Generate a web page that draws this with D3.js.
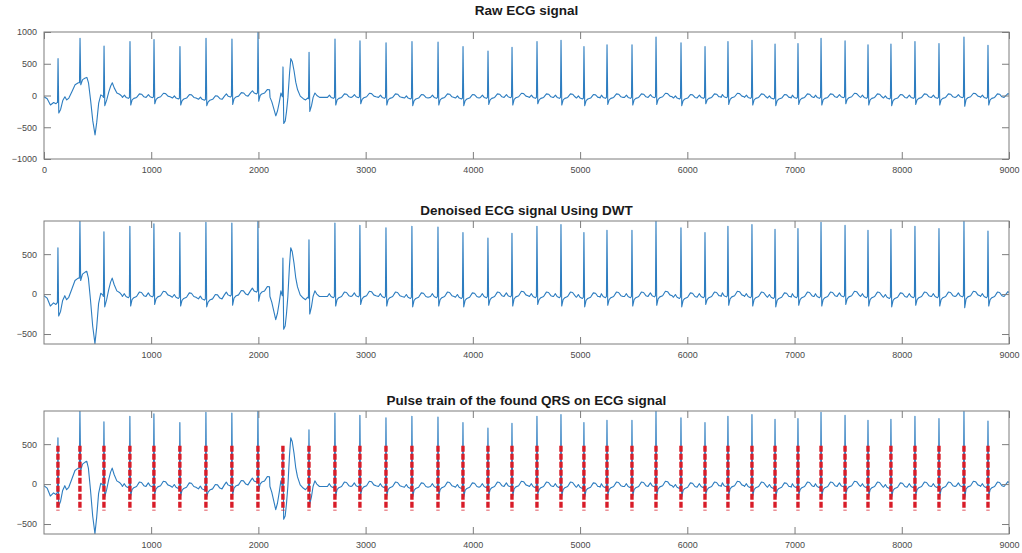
<!DOCTYPE html>
<html>
<head>
<meta charset="utf-8">
<script src="https://cdn.jsdelivr.net/npm/d3@7/dist/d3.min.js"></script>
<style>
  html, body { margin: 0; padding: 0; background: #ffffff; }
  svg { display: block; }
</style>
</head>
<body>
<svg id="chart" width="1022" height="553"></svg>
<script>
// ---------------- DATA ----------------
const panelTitles = ["Raw ECG signal", "Denoised ECG signal Using DWT", "Pulse train of the found QRS on ECG signal"];

// R-peak sample positions of the 39 beats (also the QRS pulse positions)
const beatPos = [131,336,560,802,1026,1268,1511,1753,1996,2229,
                 2472,2714,2947,3190,3432,3675,3908,4141,4365,4598,
                 4822,5036,5251,5484,5708,5941,6165,6379,6603,6818,
                 7032,7247,7471,7685,7899,8123,8347,8580,8804];
// R-peak amplitude, raw signal
const rPeakRaw = [580,900,780,850,880,770,900,890,1000,450,
                  680,890,860,830,850,840,770,700,760,850,
                  870,770,800,800,920,830,770,850,870,810,
                  820,900,860,800,810,850,820,920,790];
// R-peak amplitude, denoised signal
const rPeakDen = [580,915,780,850,880,770,900,890,915,450,
                  680,890,860,830,850,840,770,700,760,850,
                  870,770,800,800,915,830,770,850,870,810,
                  820,900,860,800,810,850,820,910,790];
// local baseline level at each beat
const beatBase = [-110,200,-30,-30,-20,-40,-60,-10,40,-20,
                  -50,-30,-20,-30,-40,-30,-40,-30,-20,-30,
                  -30,-40,-30,-30,-20,-40,-30,-20,-30,-40,
                  -30,-30,-20,-30,-40,-30,-30,-20,-30];
// S-wave minimum after each R peak
const sPeak = [-275,170,-160,-150,-130,-150,-160,-140,-90,-440,
               -250,-150,-130,-150,-160,-150,-160,-140,-150,-130,
               -150,-160,-140,-150,-140,-160,-130,-140,-150,-160,
               -140,-150,-130,-150,-160,-140,-150,-170,-150];

// P / Q / T wave shape of a regular beat: sample offset from R, level above baseline
const tplOffset = [-70,-52,-36,-14, 20, 36, 62, 88,108,130,150];
const tplDelta  = [  0, 35,  0,-15,-40,-15,  0, 55, 50, 10,  0];
// spike shape: offsets of pre-R point, R point, S point
const spikeOffset = [-5, 0, 7];

// slow waves / artefacts read point by point (samples, value) - no spikes
const waveX = [0,30,60,90,112,122, 155,175,195,212,232,260,290,320,
               360,385,400,415,435,455,476,492,510,530,548,
               585,605,622,637,655,680,705,725,
               2108,2125,2145,2162,2178,2195,2210,2218,
               2250,2262,2275,2290,2302,2316,2332,2348,2365,2390,2418,2440,2458,
               2495,2510,2527,2545,2570,
               8990,9000];
const waveY = [-20,-50,-150,-110,-130,-110, -220,-80,-20,-70,-40,60,170,200,
               250,275,285,200,-80,-400,-620,-420,-120,10,-10,
               -70,60,150,200,120,40,20,-10,
               -30,-100,-220,-320,-240,-100,40,0,
               -400,-250,-30,350,580,530,390,210,90,-10,-50,-70,-40,
               -160,-30,40,0,-30,
               30,20];
// sample ranges that are covered by the point-by-point waves above
const waveRegions = [[0,725],[2108,2570]];

// pulse train levels (third panel)
const pulseTop = 480, pulseBottom = -330;

// axes ticks
const xTicksRaw = [0,1000,2000,3000,4000,5000,6000,7000,8000,9000];
const xTicksDen = [1000,2000,3000,4000,5000,6000,7000,8000,9000];
const yTicksRaw = [-1000,-500,0,500,1000];
const yTicksDen = [-500,0,500];

// ---------------- build signals ----------------
function inWave(x) { return waveRegions.some(r => x >= r[0] && x <= r[1]); }

function buildSignal(rPeaks) {
  const pts = [];
  waveX.forEach((x, i) => pts.push([x, waveY[i]]));
  beatPos.forEach((p, i) => {
    const b = beatBase[i];
    pts.push([p + spikeOffset[0], b]);
    pts.push([p + spikeOffset[1], rPeaks[i]]);
    pts.push([p + spikeOffset[2], sPeak[i]]);
    if (!inWave(p)) {
      tplOffset.forEach((o, k) => {
        const x = p + o;
        if (!inWave(x)) pts.push([x, b + tplDelta[k]]);
      });
    }
  });
  pts.sort((a, b) => a[0] - b[0]);
  return pts;
}
const rawSignal = buildSignal(rPeakRaw);
const denSignal = buildSignal(rPeakDen);

// ---------------- layout ----------------
const svg = d3.select("#chart");
const X0 = 44, X1 = 1009;
const panels = [
  { top: 32,  h: 127, titleY: 15,  xd: [0, 9000], yd: [-1000, 1000], xt: xTicksRaw, yt: yTicksRaw, data: rawSignal, pulses: false },
  { top: 221, h: 123, titleY: 215, xd: [1, 9000], yd: [-625, 915],   xt: xTicksDen, yt: yTicksDen, data: denSignal, pulses: false },
  { top: 411, h: 123, titleY: 405, xd: [1, 9000], yd: [-625, 915],   xt: xTicksDen, yt: yTicksDen, data: denSignal, pulses: true }
];
const lineColor = "#2d7dc0";
const axisColor = "#7d7d7d";
const textColor = "#4a4a4a";
const tickLen = 7;
const fontFamily = "'Liberation Sans', Arial, Helvetica, sans-serif";

panels.forEach((P, pi) => {
  const x = d3.scaleLinear().domain(P.xd).range([X0, X1]);
  const y = d3.scaleLinear().domain(P.yd).range([P.top + P.h, P.top]);
  const g = svg.append("g");

  const clipId = "clip" + pi;
  svg.append("clipPath").attr("id", clipId)
    .append("rect").attr("x", X0).attr("y", P.top).attr("width", X1 - X0).attr("height", P.h);

  const plot = g.append("g").attr("clip-path", `url(#${clipId})`);
  const line = d3.line().x(d => x(d[0])).y(d => y(d[1]));
  plot.append("path").datum(P.data)
    .attr("d", line)
    .attr("fill", "none")
    .attr("stroke", lineColor)
    .attr("stroke-width", 1.1)
    .attr("stroke-linejoin", "round");

  if (P.pulses) {
    plot.selectAll("line.pulse").data(beatPos).enter().append("line")
      .attr("class", "pulse")
      .attr("x1", d => x(d)).attr("x2", d => x(d))
      .attr("y1", y(pulseTop)).attr("y2", y(pulseBottom))
      .attr("stroke", "#d81c28")
      .attr("stroke-width", 3.4)
      .attr("stroke-dasharray", "6,2");
  }

  // axes with inward ticks on all four sides (box on)
  const bottom = g.append("g").attr("transform", `translate(0,${P.top + P.h})`)
    .call(d3.axisBottom(x).tickValues(P.xt).tickSizeInner(-tickLen).tickSizeOuter(0).tickPadding(8).tickFormat(d3.format("d")));
  const top = g.append("g").attr("transform", `translate(0,${P.top})`)
    .call(d3.axisTop(x).tickValues(P.xt).tickSizeInner(-tickLen).tickSizeOuter(0).tickFormat(""));
  const left = g.append("g").attr("transform", `translate(${X0},0)`)
    .call(d3.axisLeft(y).tickValues(P.yt).tickSizeInner(-tickLen).tickSizeOuter(0).tickPadding(7).tickFormat(d3.format("d")));
  const right = g.append("g").attr("transform", `translate(${X1},0)`)
    .call(d3.axisRight(y).tickValues(P.yt).tickSizeInner(-tickLen).tickSizeOuter(0).tickFormat(""));

  [bottom, top, left, right].forEach(a => {
    a.select(".domain").remove();
    a.selectAll(".tick line").attr("stroke", axisColor).attr("stroke-width", 1);
    a.selectAll(".tick text").attr("fill", textColor)
      .style("font-family", fontFamily).style("font-size", "9px");
  });

  g.append("rect").attr("x", X0).attr("y", P.top).attr("width", X1 - X0).attr("height", P.h)
    .attr("fill", "none").attr("stroke", axisColor).attr("stroke-width", 1);

  g.append("text")
    .attr("x", (X0 + X1) / 2).attr("y", P.titleY)
    .attr("text-anchor", "middle")
    .style("font-family", fontFamily).style("font-size", "13.5px").style("font-weight", "bold")
    .attr("fill", "#1a1a1a")
    .text(panelTitles[pi]);
});
</script>
</body>
</html>
